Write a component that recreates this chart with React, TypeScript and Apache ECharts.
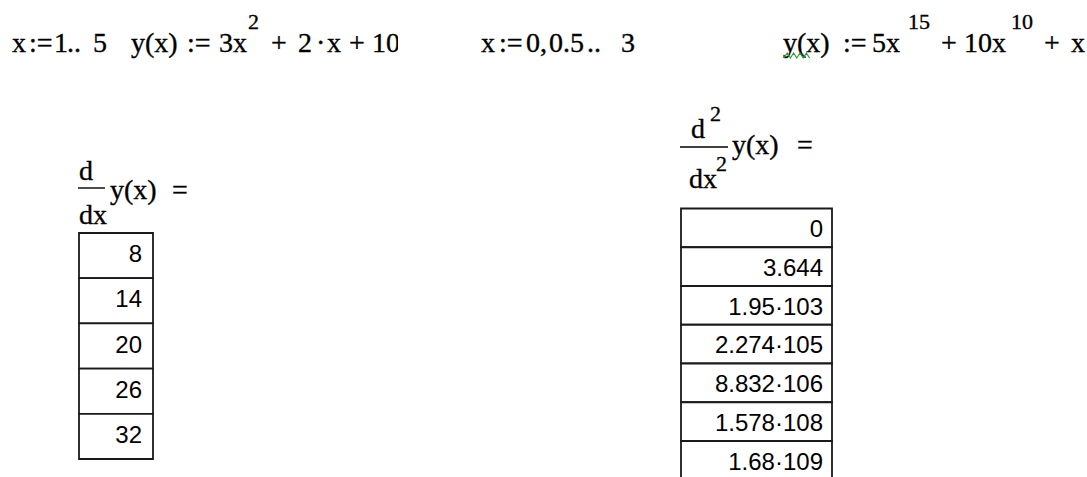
import React, { useEffect, useRef } from "react";
import * as echarts from "echarts";

// ---- data (as displayed in the worksheet) ----
const firstDerivativeValues = ["8", "14", "20", "26", "32"];
const secondDerivativeValues = [
  "0",
  "3.644",
  "1.95·103",
  "2.274·105",
  "8.832·106",
  "1.578·108",
  "1.68·109",
];

const SERIF = '"Liberation Serif", "Times New Roman", serif';
const SANS = '"Liberation Sans", Arial, sans-serif';
const INK = "#000";

type Tok = [string, number, number, number]; // text, x, baseline, fontSize

function serifText(t: Tok) {
  const [text, x, base, size] = t;
  return {
    type: "text",
    x,
    y: base - 0.34 * size,
    silent: true,
    style: {
      text,
      fill: INK,
      stroke: INK,
      lineWidth: 0.35,
      fontFamily: SERIF,
      fontSize: size,
      textAlign: "left",
      textVerticalAlign: "middle",
    },
  };
}

function tableElements(
  values: string[],
  left: number,
  right: number,
  top: number,
  rowH: number,
  textRight: number,
  fontSize: number,
  baseOffset: number
) {
  const els: any[] = [];
  values.forEach((v, i) => {
    const y0 = top + i * rowH;
    els.push({
      type: "rect",
      silent: true,
      shape: { x: left, y: y0, width: right - left, height: rowH },
      style: { fill: "#fff", stroke: "#1a1a1a", lineWidth: 1.8 },
    });
  });
  values.forEach((v, i) => {
    const y0 = top + i * rowH;
    els.push({
      type: "text",
      silent: true,
      x: textRight,
      y: y0 + baseOffset - 0.35 * fontSize,
      style: {
        text: v,
        fill: INK,
        fontFamily: SANS,
        fontSize,
        textAlign: "right",
        textVerticalAlign: "middle",
      },
    });
  });
  return els;
}

export default function App() {
  const ref = useRef<HTMLDivElement>(null);
  useEffect(() => {
    document.body.style.margin = "0";
    if (!ref.current) return;
    const chart = echarts.init(ref.current, null, { renderer: "svg" });

    const F = 28;
    const S = 22;
    const B = 52;
    const SB = 29;

    const formula1: Tok[] = [
      ["x", 12, B, F],
      [":=", 29, B, F],
      ["1", 54, B, F],
      ["..", 67, B, F],
      ["5", 93, B, F],
      ["y(x)", 131, B, F],
      [":=", 187, B, F],
      ["3x", 219, B, F],
      ["2", 248, SB, S],
      ["+", 271, B, F],
      ["2", 298, B, F],
      ["·", 316, B, F],
      ["x", 327, B, F],
      ["+", 349, B, F],
      ["10", 372, B, F],
    ];
    const formula2: Tok[] = [
      ["x", 481, B, F],
      [":=", 499, B, F],
      ["0,", 526, B, F],
      ["0.5", 549, B, F],
      ["..", 587, B, F],
      ["3", 621, B, F],
    ];
    const formula3: Tok[] = [
      ["y(x)", 783, B, F],
      [":=", 843, B, F],
      ["5x", 872, B, F],
      ["15", 908, SB, S],
      ["+", 941, B, F],
      ["10x", 964, B, F],
      ["10", 1011, SB, S],
      ["+", 1044, B, F],
      ["x", 1071, B, F],
    ];
    const header1: Tok[] = [
      ["d", 79, 180, F],
      ["y(x)", 110, 199, F],
      ["=", 172, 199, F],
      ["dx", 79, 224, F],
    ];
    const header2: Tok[] = [
      ["d", 691, 138, F],
      ["2", 710, 121, S],
      ["y(x)", 732, 154, F],
      ["=", 797, 154, F],
      ["dx", 689, 188, F],
      ["2", 716, 171, S],
    ];

    const squiggle: number[][] = [];
    for (let i = 0; i <= 8; i++) {
      squiggle.push([784 + i * 3.2, i % 2 === 0 ? 58 : 53]);
    }

    const graphic: any[] = [
      ...formula1.map(serifText),
      // clip of the last glyph of the first definition
      {
        type: "rect",
        silent: true,
        shape: { x: 398, y: 20, width: 40, height: 45 },
        style: { fill: "#fff" },
      },
      ...formula2.map(serifText),
      ...formula3.map(serifText),
      {
        type: "polyline",
        silent: true,
        shape: { points: squiggle },
        style: { stroke: "#2f9a2f", lineWidth: 1.2, fill: null },
      },
      ...header1.map(serifText),
      {
        type: "line",
        silent: true,
        shape: { x1: 78, y1: 188, x2: 105, y2: 188 },
        style: { stroke: INK, lineWidth: 1.4 },
      },
      ...header2.map(serifText),
      {
        type: "line",
        silent: true,
        shape: { x1: 680, y1: 147, x2: 728, y2: 147 },
        style: { stroke: INK, lineWidth: 1.4 },
      },
      ...tableElements(firstDerivativeValues, 79, 153, 233, 45.2, 142, 24, 29),
      ...tableElements(secondDerivativeValues, 681, 832, 208.5, 38.75, 823, 24, 28.5),
    ];

    chart.setOption({
      animation: false,
      backgroundColor: "#fff",
      graphic: { elements: graphic },
    });
    return () => chart.dispose();
  }, []);
  return <div ref={ref} style={{ width: 1087, height: 477 }} />;
}
